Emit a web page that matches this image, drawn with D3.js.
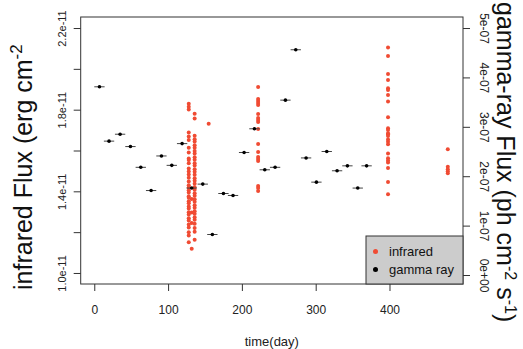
<!DOCTYPE html>
<html>
<head>
<meta charset="utf-8">
<script src="https://cdn.jsdelivr.net/npm/d3@7"></script>
<style>
  body { margin: 0; background: #fff; }
  text { font-family: "Liberation Sans", Arial, sans-serif; }
</style>
</head>
<body>
<script>
// infrared flux, in units of 1e-11 erg cm-2 s-1, one list per observing epoch
var irDays = [128, 132, 136, 155, 222, 398, 479];
var irFlux = [
  [1.829, 1.814, 1.801, 1.688, 1.669, 1.651, 1.614, 1.590, 1.561, 1.553, 1.537, 1.512, 1.497, 1.483, 1.466, 1.448, 1.430, 1.419,
   1.405, 1.394, 1.376, 1.369, 1.351, 1.341, 1.326, 1.316, 1.297, 1.287, 1.268, 1.257, 1.238, 1.223, 1.199, 1.183, 1.151],
  [1.362, 1.296, 1.245, 1.119],
  [1.780, 1.757, 1.672, 1.655, 1.644, 1.626, 1.613, 1.597, 1.585, 1.567, 1.555, 1.538, 1.526, 1.508, 1.496, 1.481, 1.464, 1.452,
   1.437, 1.420, 1.408, 1.391, 1.378, 1.361, 1.349, 1.332, 1.320, 1.303, 1.290, 1.273, 1.261, 1.241, 1.220, 1.202, 1.163],
  [1.731],
  [1.911, 1.852, 1.843, 1.833, 1.823, 1.779, 1.759, 1.749, 1.740, 1.705, 1.632, 1.593, 1.568, 1.558, 1.549, 1.426, 1.416, 1.402],
  [2.105, 2.063, 1.975, 1.945, 1.905, 1.896, 1.872, 1.840, 1.763, 1.709, 1.700, 1.684, 1.679, 1.671, 1.654, 1.643, 1.631, 1.585,
   1.562, 1.551, 1.541, 1.514, 1.446, 1.386],
  [1.606, 1.521, 1.508, 1.498, 1.488]
];

// gamma-ray flux, in units of 1e-7 ph cm-2 s-1, 14-day bins
var gammaDays = [7, 20, 35, 49, 63, 77, 91, 105, 119, 132, 147, 160, 175, 188, 203, 217, 231, 245, 259, 273, 287, 301, 315, 329, 343, 357, 369];
var gammaFlux = [3.81, 2.71, 2.85, 2.60, 2.18, 1.71, 2.41, 2.22, 2.66, 1.76, 1.84, 0.82, 1.65, 1.61, 2.48, 2.96, 2.13, 2.18, 3.54, 4.56,
                 2.37, 1.88, 2.50, 2.11, 2.21, 1.76, 2.21];
var gammaHalfBin = 7;

var xTicks = [0, 100, 200, 300, 400];
var irTicks = [1.0, 1.2, 1.4, 1.6, 1.8, 2.0, 2.2];
var irTickLabels = ['1.0e-11', '', '1.4e-11', '', '1.8e-11', '', '2.2e-11'];
var gammaTicks = [0, 1, 2, 3, 4, 5];
var gammaTickLabels = ['0e+00', '1e-07', '2e-07', '3e-07', '4e-07', '5e-07'];

var legendLabels = ['infrared', 'gamma ray'];
var colors = { ir: '#f04b33', gamma: '#000' };

var dimensions = { width: 523, height: 349 };
var box = { left: 80.7, right: 463, top: 17, bottom: 284 };

var svg = d3.select('body').append('svg')
  .attr('width', dimensions.width).attr('height', dimensions.height);

var x = d3.scaleLinear().domain([-18.4, 499.6]).range([box.left, box.right]);
var yIr = d3.scaleLinear().domain([0.946, 2.254]).range([box.bottom, box.top]);
var yGamma = d3.scaleLinear().domain([-0.182, 5.223]).range([box.bottom, box.top]);

// plot frame
svg.append('rect')
  .attr('x', box.left).attr('y', box.top)
  .attr('width', box.right - box.left).attr('height', box.bottom - box.top)
  .attr('fill', 'none').attr('stroke', '#333').attr('stroke-width', 1);

var styleAxis = function(g) {
  g.select('.domain').remove();
  g.selectAll('.tick line').attr('stroke', '#333');
  g.selectAll('.tick text').attr('fill', '#222');
};

// x axis
svg.append('g')
  .attr('transform', 'translate(0,' + box.bottom + ')')
  .call(d3.axisBottom(x).tickValues(xTicks).tickSize(7).tickSizeOuter(0).tickPadding(14))
  .attr('font-size', 12)
  .call(styleAxis);

// left axis (infrared)
svg.append('g')
  .attr('transform', 'translate(' + box.left + ',0)')
  .call(d3.axisLeft(yIr).tickValues(irTicks).tickSize(7)
    .tickFormat(function(d, i) { return irTickLabels[i]; }))
  .attr('font-size', 11)
  .call(styleAxis)
  .selectAll('.tick text')
  .attr('x', null).attr('dy', null)
  .attr('text-anchor', 'middle')
  .attr('transform', 'translate(-14.5,0) rotate(-90)');

// right axis (gamma ray)
svg.append('g')
  .attr('transform', 'translate(' + box.right + ',0)')
  .call(d3.axisRight(yGamma).tickValues(gammaTicks).tickSize(7)
    .tickFormat(function(d, i) { return gammaTickLabels[i]; }))
  .attr('font-size', 12)
  .call(styleAxis)
  .selectAll('.tick text')
  .attr('x', null).attr('dy', null)
  .attr('text-anchor', 'middle')
  .attr('transform', 'translate(16.5,0) rotate(90)');

// axis titles
svg.append('text')
  .attr('x', (box.left + box.right) / 2).attr('y', 345.5)
  .attr('text-anchor', 'middle').attr('font-size', 13).attr('fill', '#222')
  .text('time(day)');

var leftTitle = svg.append('text')
  .attr('transform', 'translate(32,290) rotate(-90)')
  .attr('font-size', 25).attr('fill', '#111');
leftTitle.append('tspan').text('infrared Flux (erg cm');
leftTitle.append('tspan').attr('font-size', 17).attr('dy', -10).text('-2');

var rightTitle = svg.append('text')
  .attr('transform', 'translate(497,2) rotate(90)')
  .attr('font-size', 25).attr('fill', '#111');
rightTitle.append('tspan').text('gamma-ray Flux (ph cm');
rightTitle.append('tspan').attr('font-size', 16).attr('dy', -8).text('-2');
rightTitle.append('tspan').attr('dy', 8).text(' s');
rightTitle.append('tspan').attr('font-size', 16).attr('dy', -8).text('-1');
rightTitle.append('tspan').attr('dy', 8).text(')');

// infrared points
var irPoints = [];
irDays.forEach(function(day, i) {
  irFlux[i].forEach(function(f) { irPoints.push([day, f]); });
});

svg.append('g').selectAll('circle')
  .data(irPoints)
  .enter()
  .append('circle')
  .attr('cx', function(d) { return x(d[0]); })
  .attr('cy', function(d) { return yIr(d[1]); })
  .attr('r', 2)
  .attr('fill', colors.ir);

// gamma-ray points with horizontal bin bars
var gammaPoints = gammaDays.map(function(day, i) { return [day, gammaFlux[i]]; });
var gammaG = svg.append('g');

gammaG.selectAll('line')
  .data(gammaPoints)
  .enter()
  .append('line')
  .attr('x1', function(d) { return x(d[0] - gammaHalfBin); })
  .attr('x2', function(d) { return x(d[0] + gammaHalfBin); })
  .attr('y1', function(d) { return yGamma(d[1]); })
  .attr('y2', function(d) { return yGamma(d[1]); })
  .attr('stroke', '#444').attr('stroke-width', 1);

gammaG.selectAll('circle')
  .data(gammaPoints)
  .enter()
  .append('circle')
  .attr('cx', function(d) { return x(d[0]); })
  .attr('cy', function(d) { return yGamma(d[1]); })
  .attr('r', 1.8)
  .attr('fill', colors.gamma);

// legend
var legend = svg.append('g');
legend.append('rect')
  .attr('x', 366).attr('y', 236).attr('width', box.right - 366).attr('height', box.bottom - 236)
  .attr('fill', '#cccccc').attr('stroke', '#333');

legend.selectAll('circle')
  .data(legendLabels)
  .enter()
  .append('circle')
  .attr('cx', 375.5)
  .attr('cy', function(d, i) { return 251.5 + i * 18; })
  .attr('r', 2.5)
  .attr('fill', function(d, i) { return i === 0 ? colors.ir : colors.gamma; });

legend.selectAll('text')
  .data(legendLabels)
  .enter()
  .append('text')
  .attr('x', 389)
  .attr('y', function(d, i) { return 251.5 + i * 18; })
  .attr('dy', '0.35em')
  .attr('font-size', 13).attr('fill', '#111')
  .text(function(d) { return d; });
</script>
</body>
</html>
